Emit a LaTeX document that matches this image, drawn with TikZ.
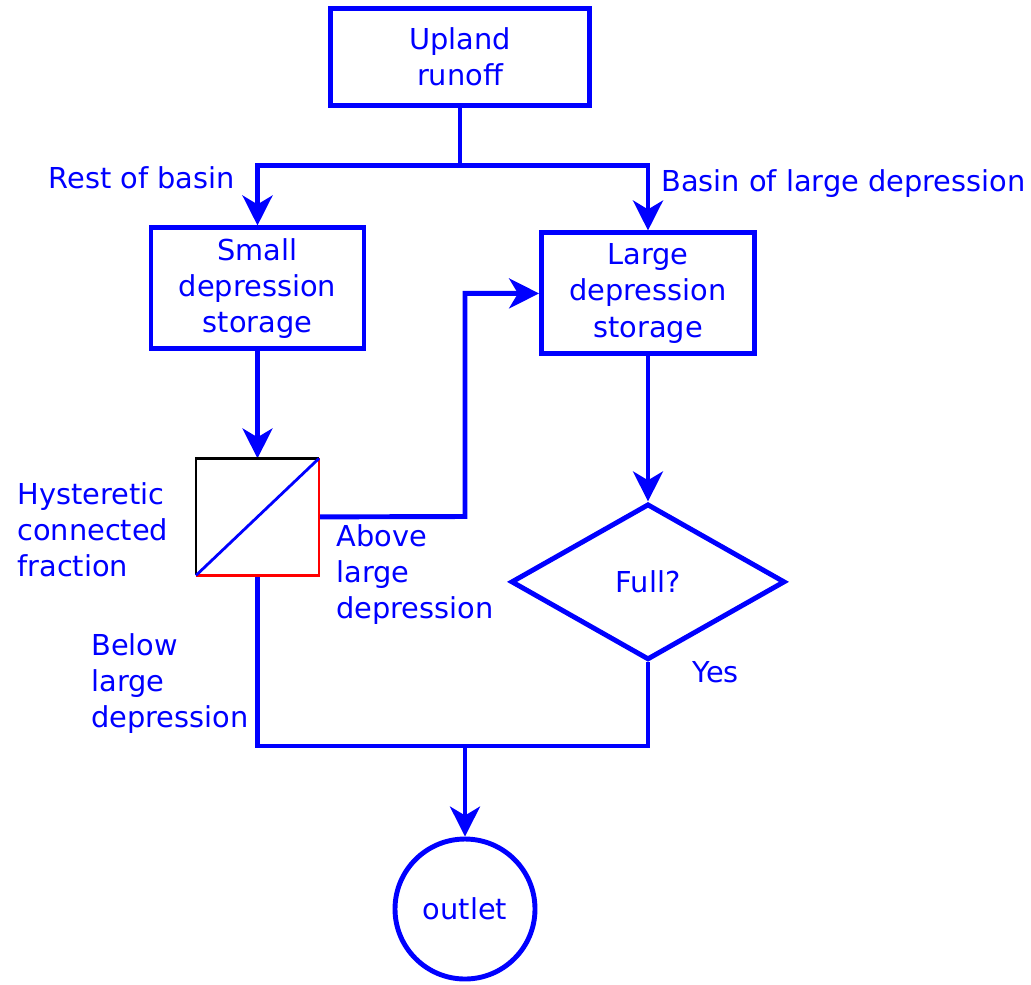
\documentclass[tikz,border=0pt]{standalone}
\usepackage{fontspec}
\setmainfont{DejaVu Sans}
\usepackage{tikz}
\usetikzlibrary{
  positioning,
  arrows.meta,
  shapes.geometric
}
\definecolor{flowblue}{RGB}{0,0,255}
\definecolor{hystred}{RGB}{255,0,0}
\tikzset{
  flowbox/.style={
    draw=flowblue, line width=2.8pt, rectangle,
    minimum width=4.26cm, minimum height=2.42cm,
    font=\fontsize{16.4}{20.6}\selectfont, text=flowblue, align=center
  },
  flowdiamond/.style={
    draw=flowblue, line width=2.8pt, diamond, aspect=1.76, inner sep=0pt,
    minimum width=5.48cm, minimum height=3.12cm,
    font=\fontsize{16.4}{20.6}\selectfont, text=flowblue, align=center
  },
  flowcircle/.style={
    draw=flowblue, line width=2.8pt, circle, minimum size=2.8cm,
    font=\fontsize{16.4}{20.6}\selectfont, text=flowblue, align=center
  },
  flowlabel/.style={
    inner sep=0pt, font=\fontsize{16.4}{20.6}\selectfont, text=flowblue, align=left
  },
  flowline/.style={
    line width=2.8pt, draw=flowblue
  },
  flowarrow/.style={
    -{Stealth[length=17pt, width=17pt, inset=5pt]}, line width=2.8pt, draw=flowblue
  },
  hystbox/.style={
    rectangle, inner sep=0pt, outer sep=0pt,
    minimum width=2.46cm, minimum height=2.34cm
  }
}

\begin{document}
\begin{tikzpicture}

    \useasboundingbox (0,0) rectangle (20.62,-19.68);

    \node[flowbox, minimum width=5.18cm, minimum height=1.94cm] (upland) at (9.20,-1.14) {Upland\\runoff};

    \node[flowbox, below=2.35cm of upland, xshift=-4.05cm] (small) {Small\\depression\\storage};
    \node[flowbox, below=2.45cm of upland, xshift=3.76cm] (large) {Large\\depression\\storage};

    \node[hystbox, below=2.14cm of small] (hyst) {};
    \node[flowdiamond, below=2.90cm of large] (full) {Full?};
    \node[flowcircle] (outlet) at (9.30,-18.18) {outlet};

    \coordinate[below=1.15cm of upland.south] (split);
    \coordinate (route) at (9.30,-10.33);
    \coordinate (merge) at (9.30,-14.92);

    \draw[flowline] (upland) -- (split);
    \draw[flowarrow] (split) -| (small);
    \draw[flowarrow] (split) -| (large);
    \draw[flowarrow] (small) -- (hyst);
    \draw[flowarrow] (large) -- (full);
    \draw[flowarrow] (hyst.east) -- (route) |- (large.west);
    \draw[flowline] (hyst.south) |- (merge) -| (full.south);
    \draw[flowarrow] (merge) -- (outlet);

    \draw[line width=1.3pt, black] (hyst.south west) |- (hyst.north east);
    \draw[line width=1.3pt, hystred] (hyst.north east) |- (hyst.south west);
    \draw[line width=1.6pt, flowblue] (hyst.south west) -- (hyst.north east);

    \node[flowlabel, anchor=north east] (restlbl) at (4.70,-3.32) {Rest of basin};
    \node[flowlabel, anchor=north west] (basinlbl) at (13.22,-3.38) {Basin of large depression};
    \node[flowlabel, anchor=north west] (hystlbl) at (0.34,-9.64) {Hysteretic\\connected\\fraction};
    \node[flowlabel, anchor=north west] (abovelbl) at (6.72,-10.48) {Above\\large\\depression};
    \node[flowlabel, anchor=north west] (belowlbl) at (1.82,-12.66) {Below\\large\\depression};
    \node[flowlabel, anchor=north west] (yeslbl) at (13.84,-13.22) {Yes};

\end{tikzpicture}
\end{document}
